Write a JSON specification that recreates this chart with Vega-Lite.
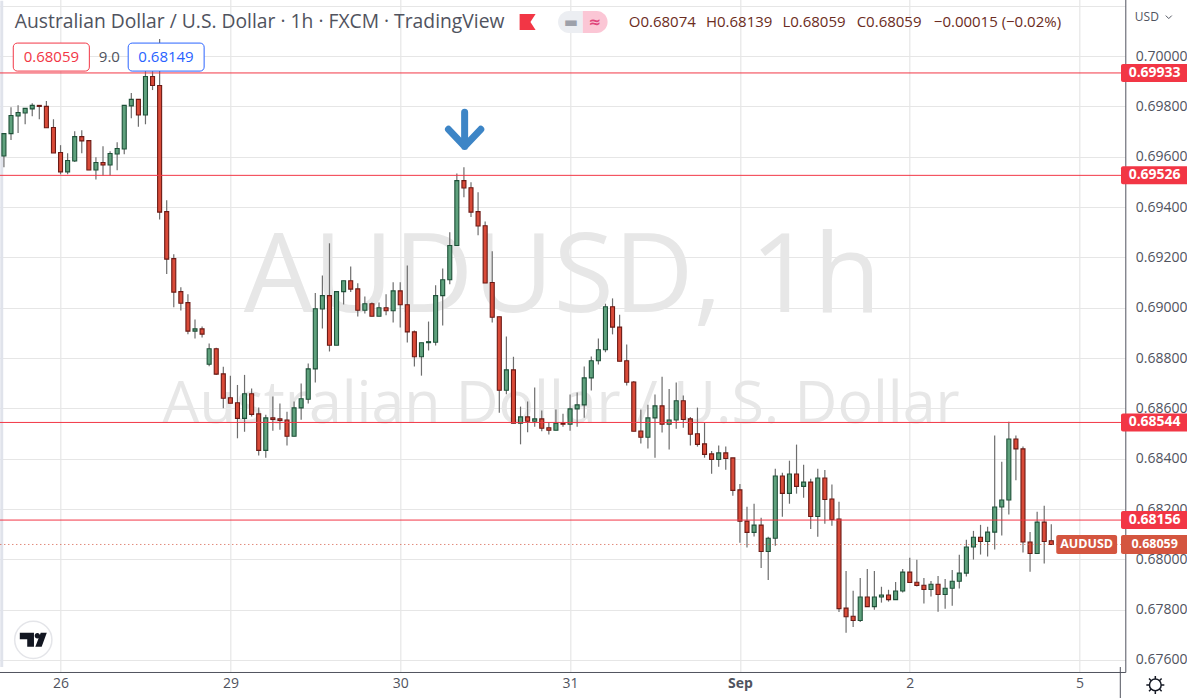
{"$schema":"https://vega.github.io/schema/vega-lite/v6.json","width":1187.3,"height":698,"autosize":{"type":"fit","contains":"padding"},"padding":{"left":-5.7,"top":-4,"right":-5,"bottom":-5},"background":"white","config":{"view":{"stroke":null},"font":"Open Sans"},
"title":{"text":"Australian Dollar / U.S. Dollar · 1h · FXCM · TradingView","anchor":"start","frame":"group","orient":"top","offset":-36,"dx":19.5,"font":"Open Sans","fontSize":19.3,"fontWeight":"normal","color":"#50535e"},
"datasets":{
"candles":[
{"t":-8,"open":0.69603,"high":0.69692,"low":0.69558,"close":0.69692,"dir":"up"},
{"t":-7,"open":0.69692,"high":0.69797,"low":0.69666,"close":0.69764,"dir":"up"},
{"t":-6,"open":0.69762,"high":0.69805,"low":0.69694,"close":0.69776,"dir":"up"},
{"t":-5,"open":0.69774,"high":0.69792,"low":0.69729,"close":0.69792,"dir":"up"},
{"t":-4,"open":0.6979,"high":0.69813,"low":0.69761,"close":0.69804,"dir":"up"},
{"t":-3,"open":0.69804,"high":0.69804,"low":0.69749,"close":0.698,"dir":"down"},
{"t":-2,"open":0.698,"high":0.69821,"low":0.69715,"close":0.69715,"dir":"down"},
{"t":-1,"open":0.69716,"high":0.69749,"low":0.69615,"close":0.69615,"dir":"down"},
{"t":0,"open":0.69617,"high":0.69646,"low":0.6953,"close":0.6954,"dir":"down"},
{"t":1,"open":0.6954,"high":0.69614,"low":0.6953,"close":0.69585,"dir":"up"},
{"t":2,"open":0.69583,"high":0.69701,"low":0.69579,"close":0.6968,"dir":"up"},
{"t":3,"open":0.6968,"high":0.69705,"low":0.69614,"close":0.69663,"dir":"down"},
{"t":4,"open":0.69664,"high":0.69664,"low":0.69547,"close":0.69547,"dir":"down"},
{"t":5,"open":0.69547,"high":0.69598,"low":0.6951,"close":0.69577,"dir":"up"},
{"t":6,"open":0.69577,"high":0.69642,"low":0.69525,"close":0.69567,"dir":"down"},
{"t":7,"open":0.69567,"high":0.69622,"low":0.69525,"close":0.69613,"dir":"up"},
{"t":8,"open":0.69611,"high":0.69658,"low":0.69546,"close":0.69633,"dir":"up"},
{"t":9,"open":0.69631,"high":0.69804,"low":0.6961,"close":0.69804,"dir":"up"},
{"t":10,"open":0.69802,"high":0.69853,"low":0.69753,"close":0.69828,"dir":"up"},
{"t":11,"open":0.69828,"high":0.69828,"low":0.69719,"close":0.69766,"dir":"down"},
{"t":12,"open":0.69766,"high":0.6994,"low":0.69729,"close":0.69919,"dir":"up"},
{"t":13,"open":0.69919,"high":0.6994,"low":0.69865,"close":0.69883,"dir":"down"},
{"t":14,"open":0.69883,"high":0.70068,"low":0.69351,"close":0.6938,"dir":"down"},
{"t":15,"open":0.69382,"high":0.69427,"low":0.69134,"close":0.69193,"dir":"down"},
{"t":16,"open":0.69195,"high":0.69212,"low":0.69002,"close":0.69062,"dir":"down"},
{"t":17,"open":0.69064,"high":0.69081,"low":0.68989,"close":0.69018,"dir":"down"},
{"t":18,"open":0.6902,"high":0.69053,"low":0.68895,"close":0.68907,"dir":"down"},
{"t":19,"open":0.68907,"high":0.68953,"low":0.68878,"close":0.68916,"dir":"up"},
{"t":20,"open":0.68916,"high":0.68925,"low":0.68882,"close":0.68895,"dir":"down"},
{"t":21,"open":0.68775,"high":0.68858,"low":0.68767,"close":0.68837,"dir":"up"},
{"t":22,"open":0.68837,"high":0.68841,"low":0.68733,"close":0.68736,"dir":"down"},
{"t":23,"open":0.68737,"high":0.68765,"low":0.686,"close":0.6864,"dir":"down"},
{"t":24,"open":0.68642,"high":0.6873,"low":0.6862,"close":0.6862,"dir":"down"},
{"t":25,"open":0.68622,"high":0.68693,"low":0.68481,"close":0.6856,"dir":"down"},
{"t":26,"open":0.6856,"high":0.68733,"low":0.68507,"close":0.68658,"dir":"up"},
{"t":27,"open":0.68658,"high":0.68679,"low":0.68568,"close":0.68576,"dir":"down"},
{"t":28,"open":0.68578,"high":0.68603,"low":0.68413,"close":0.68433,"dir":"down"},
{"t":29,"open":0.68433,"high":0.68575,"low":0.68404,"close":0.68562,"dir":"up"},
{"t":30,"open":0.68562,"high":0.68647,"low":0.68511,"close":0.68556,"dir":"down"},
{"t":31,"open":0.68558,"high":0.68619,"low":0.68515,"close":0.68552,"dir":"down"},
{"t":32,"open":0.68554,"high":0.68587,"low":0.68452,"close":0.68489,"dir":"down"},
{"t":33,"open":0.68489,"high":0.68627,"low":0.68489,"close":0.68602,"dir":"up"},
{"t":34,"open":0.68602,"high":0.68699,"low":0.68555,"close":0.68638,"dir":"up"},
{"t":35,"open":0.68636,"high":0.68778,"low":0.68619,"close":0.68757,"dir":"up"},
{"t":36,"open":0.68757,"high":0.69058,"low":0.68703,"close":0.68996,"dir":"up"},
{"t":37,"open":0.68995,"high":0.69128,"low":0.68917,"close":0.69048,"dir":"up"},
{"t":38,"open":0.69048,"high":0.69256,"low":0.68826,"close":0.68851,"dir":"down"},
{"t":39,"open":0.68851,"high":0.69064,"low":0.68851,"close":0.69064,"dir":"up"},
{"t":40,"open":0.69064,"high":0.69107,"low":0.69013,"close":0.69107,"dir":"up"},
{"t":41,"open":0.69107,"high":0.69164,"low":0.69062,"close":0.69074,"dir":"down"},
{"t":42,"open":0.69075,"high":0.69097,"low":0.68965,"close":0.6899,"dir":"down"},
{"t":43,"open":0.6899,"high":0.69045,"low":0.68977,"close":0.69016,"dir":"up"},
{"t":44,"open":0.69016,"high":0.69021,"low":0.68966,"close":0.68966,"dir":"down"},
{"t":45,"open":0.68966,"high":0.69021,"low":0.68966,"close":0.69,"dir":"up"},
{"t":46,"open":0.69,"high":0.69053,"low":0.6897,"close":0.68988,"dir":"down"},
{"t":47,"open":0.68988,"high":0.69101,"low":0.68941,"close":0.69067,"dir":"up"},
{"t":48,"open":0.69067,"high":0.69101,"low":0.68921,"close":0.69012,"dir":"down"},
{"t":49,"open":0.69012,"high":0.69168,"low":0.68862,"close":0.68904,"dir":"down"},
{"t":50,"open":0.68904,"high":0.68909,"low":0.68766,"close":0.68805,"dir":"down"},
{"t":51,"open":0.68805,"high":0.68861,"low":0.6873,"close":0.68861,"dir":"up"},
{"t":52,"open":0.68861,"high":0.68945,"low":0.6883,"close":0.68865,"dir":"up"},
{"t":53,"open":0.68863,"high":0.69089,"low":0.6885,"close":0.69048,"dir":"up"},
{"t":54,"open":0.69048,"high":0.69156,"low":0.68929,"close":0.69111,"dir":"up"},
{"t":55,"open":0.69111,"high":0.693,"low":0.69093,"close":0.69247,"dir":"up"},
{"t":56,"open":0.69247,"high":0.69533,"low":0.69247,"close":0.69505,"dir":"up"},
{"t":57,"open":0.69505,"high":0.69558,"low":0.69439,"close":0.69476,"dir":"down"},
{"t":58,"open":0.69477,"high":0.69499,"low":0.6936,"close":0.6938,"dir":"down"},
{"t":59,"open":0.69382,"high":0.69459,"low":0.69288,"close":0.69325,"dir":"down"},
{"t":60,"open":0.69326,"high":0.69343,"low":0.69098,"close":0.69098,"dir":"down"},
{"t":61,"open":0.691,"high":0.69224,"low":0.68941,"close":0.68962,"dir":"down"},
{"t":62,"open":0.68964,"high":0.68964,"low":0.68583,"close":0.68672,"dir":"down"},
{"t":63,"open":0.68672,"high":0.68886,"low":0.68656,"close":0.68753,"dir":"up"},
{"t":64,"open":0.68753,"high":0.68805,"low":0.68541,"close":0.68541,"dir":"down"},
{"t":65,"open":0.68541,"high":0.68607,"low":0.68457,"close":0.68566,"dir":"up"},
{"t":66,"open":0.68566,"high":0.68627,"low":0.68505,"close":0.68549,"dir":"down"},
{"t":67,"open":0.68549,"high":0.68683,"low":0.68527,"close":0.68558,"dir":"up"},
{"t":68,"open":0.68558,"high":0.68591,"low":0.68509,"close":0.68521,"dir":"down"},
{"t":69,"open":0.68523,"high":0.68546,"low":0.68496,"close":0.68513,"dir":"down"},
{"t":70,"open":0.68513,"high":0.68595,"low":0.68513,"close":0.68541,"dir":"up"},
{"t":71,"open":0.68541,"high":0.68579,"low":0.68527,"close":0.68537,"dir":"down"},
{"t":72,"open":0.68537,"high":0.68655,"low":0.68511,"close":0.68598,"dir":"up"},
{"t":73,"open":0.68598,"high":0.68663,"low":0.68527,"close":0.68614,"dir":"up"},
{"t":74,"open":0.68614,"high":0.68766,"low":0.68563,"close":0.68721,"dir":"up"},
{"t":75,"open":0.68721,"high":0.68806,"low":0.68671,"close":0.68789,"dir":"up"},
{"t":76,"open":0.68789,"high":0.68878,"low":0.68774,"close":0.68833,"dir":"up"},
{"t":77,"open":0.68833,"high":0.69016,"low":0.68823,"close":0.69004,"dir":"up"},
{"t":78,"open":0.69004,"high":0.69037,"low":0.68894,"close":0.68923,"dir":"down"},
{"t":79,"open":0.68923,"high":0.68972,"low":0.68787,"close":0.68787,"dir":"down"},
{"t":80,"open":0.68789,"high":0.68854,"low":0.68691,"close":0.68704,"dir":"down"},
{"t":81,"open":0.68705,"high":0.68709,"low":0.68509,"close":0.68509,"dir":"down"},
{"t":82,"open":0.6851,"high":0.68595,"low":0.6846,"close":0.68485,"dir":"down"},
{"t":83,"open":0.68485,"high":0.68614,"low":0.6844,"close":0.68562,"dir":"up"},
{"t":84,"open":0.68562,"high":0.68655,"low":0.68404,"close":0.6861,"dir":"up"},
{"t":85,"open":0.6861,"high":0.68726,"low":0.68504,"close":0.68537,"dir":"down"},
{"t":86,"open":0.68537,"high":0.68677,"low":0.68436,"close":0.68554,"dir":"up"},
{"t":87,"open":0.68554,"high":0.68703,"low":0.68519,"close":0.6863,"dir":"up"},
{"t":88,"open":0.6863,"high":0.68651,"low":0.68523,"close":0.68556,"dir":"down"},
{"t":89,"open":0.68558,"high":0.68566,"low":0.68452,"close":0.68497,"dir":"down"},
{"t":90,"open":0.68499,"high":0.68603,"low":0.68448,"close":0.68457,"dir":"down"},
{"t":91,"open":0.68459,"high":0.68542,"low":0.68404,"close":0.68417,"dir":"down"},
{"t":92,"open":0.68419,"high":0.68431,"low":0.6834,"close":0.68397,"dir":"down"},
{"t":93,"open":0.68397,"high":0.68452,"low":0.68368,"close":0.68423,"dir":"up"},
{"t":94,"open":0.68423,"high":0.68448,"low":0.68356,"close":0.68401,"dir":"down"},
{"t":95,"open":0.68403,"high":0.68403,"low":0.68253,"close":0.68274,"dir":"down"},
{"t":96,"open":0.68276,"high":0.68299,"low":0.68066,"close":0.68152,"dir":"down"},
{"t":97,"open":0.68152,"high":0.68209,"low":0.68047,"close":0.68107,"dir":"down"},
{"t":98,"open":0.68107,"high":0.68221,"low":0.68091,"close":0.68136,"dir":"up"},
{"t":99,"open":0.68136,"high":0.68165,"low":0.67966,"close":0.68031,"dir":"down"},
{"t":100,"open":0.68031,"high":0.6809,"low":0.67918,"close":0.68084,"dir":"up"},
{"t":101,"open":0.68084,"high":0.6836,"low":0.68054,"close":0.68331,"dir":"up"},
{"t":102,"open":0.68331,"high":0.68344,"low":0.68169,"close":0.68262,"dir":"down"},
{"t":103,"open":0.68262,"high":0.68392,"low":0.68221,"close":0.68339,"dir":"up"},
{"t":104,"open":0.68339,"high":0.68456,"low":0.68261,"close":0.6829,"dir":"down"},
{"t":105,"open":0.6829,"high":0.68376,"low":0.68245,"close":0.68307,"dir":"up"},
{"t":106,"open":0.68307,"high":0.6832,"low":0.68121,"close":0.6817,"dir":"down"},
{"t":107,"open":0.6817,"high":0.6836,"low":0.6809,"close":0.68323,"dir":"up"},
{"t":108,"open":0.68323,"high":0.68355,"low":0.68141,"close":0.68238,"dir":"down"},
{"t":109,"open":0.6824,"high":0.68297,"low":0.68133,"close":0.68158,"dir":"down"},
{"t":110,"open":0.6816,"high":0.68229,"low":0.67791,"close":0.67804,"dir":"down"},
{"t":111,"open":0.67806,"high":0.67954,"low":0.67708,"close":0.67772,"dir":"down"},
{"t":112,"open":0.67774,"high":0.67875,"low":0.67731,"close":0.67757,"dir":"down"},
{"t":113,"open":0.67757,"high":0.67926,"low":0.67751,"close":0.6785,"dir":"up"},
{"t":114,"open":0.6785,"high":0.67962,"low":0.67812,"close":0.67812,"dir":"down"},
{"t":115,"open":0.67812,"high":0.67954,"low":0.678,"close":0.6785,"dir":"up"},
{"t":116,"open":0.6785,"high":0.67891,"low":0.67828,"close":0.67858,"dir":"up"},
{"t":117,"open":0.67858,"high":0.67879,"low":0.67832,"close":0.6784,"dir":"down"},
{"t":118,"open":0.6784,"high":0.6791,"low":0.6784,"close":0.67874,"dir":"up"},
{"t":119,"open":0.67874,"high":0.67962,"low":0.67868,"close":0.67949,"dir":"up"},
{"t":120,"open":0.67949,"high":0.68006,"low":0.67908,"close":0.67908,"dir":"down"},
{"t":121,"open":0.67909,"high":0.67998,"low":0.67892,"close":0.67896,"dir":"down"},
{"t":122,"open":0.67897,"high":0.67926,"low":0.67824,"close":0.6788,"dir":"down"},
{"t":123,"open":0.6788,"high":0.67914,"low":0.67852,"close":0.67901,"dir":"up"},
{"t":124,"open":0.67901,"high":0.67934,"low":0.67792,"close":0.6786,"dir":"down"},
{"t":125,"open":0.6786,"high":0.67922,"low":0.67804,"close":0.67885,"dir":"up"},
{"t":126,"open":0.67885,"high":0.67958,"low":0.67816,"close":0.67913,"dir":"up"},
{"t":127,"open":0.67913,"high":0.68018,"low":0.67884,"close":0.67945,"dir":"up"},
{"t":128,"open":0.67945,"high":0.68078,"low":0.67932,"close":0.68049,"dir":"up"},
{"t":129,"open":0.68049,"high":0.68113,"low":0.67999,"close":0.68088,"dir":"up"},
{"t":130,"open":0.68088,"high":0.68137,"low":0.68019,"close":0.68071,"dir":"down"},
{"t":131,"open":0.68071,"high":0.68129,"low":0.68011,"close":0.68108,"dir":"up"},
{"t":132,"open":0.68108,"high":0.68492,"low":0.68039,"close":0.68208,"dir":"up"},
{"t":133,"open":0.68208,"high":0.68388,"low":0.68095,"close":0.68236,"dir":"up"},
{"t":134,"open":0.68236,"high":0.68547,"low":0.68178,"close":0.68478,"dir":"up"},
{"t":135,"open":0.68478,"high":0.68492,"low":0.68314,"close":0.68439,"dir":"down"},
{"t":136,"open":0.68439,"high":0.68448,"low":0.68027,"close":0.68069,"dir":"down"},
{"t":137,"open":0.68069,"high":0.68109,"low":0.67951,"close":0.68023,"dir":"down"},
{"t":138,"open":0.68023,"high":0.68189,"low":0.68023,"close":0.68148,"dir":"up"},
{"t":139,"open":0.68148,"high":0.68213,"low":0.67983,"close":0.68071,"dir":"down"},
{"t":140,"open":0.68074,"high":0.68139,"low":0.68059,"close":0.68059,"dir":"down"}
],
"levels":[{"price":0.69933,"label":"0.69933"},{"price":0.69526,"label":"0.69526"},{"price":0.68544,"label":"0.68544"},{"price":0.68156,"label":"0.68156"}]
},
"layer":[
{"data":{"name":"candles"},"mark":{"type":"rule","color":"#6e6e6e","strokeWidth":1.2,"opacity":0},
"encoding":{
"x":{"field":"t","type":"quantitative","title":null,"scale":{"domain":[-8.513,149.75],"nice":false,"zero":false},
"axis":{"values":[0,24,48,72,96,120,144],"labelExpr":"datum.value==0?'26':datum.value==24?'29':datum.value==48?'30':datum.value==72?'31':datum.value==96?'Sep':datum.value==120?'2':'5'","grid":true,"gridColor":"#e6e6e6","gridWidth":1.2,"ticks":false,"domain":true,"domainColor":"#50535e","domainWidth":1,"labelFont":"Open Sans","labelFontSize":14,"labelColor":"#50535e","labelPadding":5,"labelFontWeight":{"condition":{"test":"datum.value==96","value":"bold"},"value":"normal"}}},
"y":{"field":"low","type":"quantitative","title":null,"scale":{"domain":[0.675721,0.702189],"nice":false,"zero":false},
"axis":{"orient":"right","values":[0.676,0.678,0.68,0.682,0.684,0.686,0.688,0.69,0.692,0.694,0.696,0.698,0.7,0.702],"labelExpr":"datum.value>0.701?'':format(datum.value,'.5f')","grid":true,"gridColor":"#e6e6e6","gridWidth":1.2,"ticks":false,"domain":true,"domainColor":"#50535e","domainWidth":1,"labelFont":"Open Sans","labelFontSize":14,"labelColor":"#50535e","labelPadding":10}}
}},
{"data":{"values":[{"text":"AUDUSD, 1h","t":70.9,"price":0.69116,"size":110},{"text":"Australian Dollar / U.S. Dollar","t":70.7,"price":0.68615,"size":59}]},"mark":{"type":"text","font":"Open Sans","color":"#e7e7e7","align":"center","baseline":"middle"},"encoding":{"x":{"field":"t","type":"quantitative"},"y":{"field":"price","type":"quantitative"},"text":{"field":"text"},"size":{"field":"size","type":"quantitative","scale":null}}},
{"data":{"values":[{"t":-8.513,"t2":-8.1,"p":0.7022,"p2":0.67572}]},"mark":{"type":"rect","color":"#e0e3eb"},"encoding":{"x":{"field":"t","type":"quantitative"},"x2":{"field":"t2"},"y":{"field":"p","type":"quantitative"},"y2":{"field":"p2"}}},
{"data":{"name":"candles"},"mark":{"type":"rule","color":"#6e6e6e","strokeWidth":1.2},"encoding":{"x":{"field":"t","type":"quantitative"},"y":{"field":"low","type":"quantitative"},"y2":{"field":"high"}}},
{"data":{"name":"candles"},"mark":{"type":"bar","size":4,"strokeWidth":1.1},"encoding":{"x":{"field":"t","type":"quantitative"},"y":{"field":"open","type":"quantitative"},"y2":{"field":"close"},"color":{"field":"dir","type":"nominal","legend":null,"scale":{"domain":["up","down"],"range":["#5fa17d","#d94a38"]}},"stroke":{"field":"dir","type":"nominal","legend":null,"scale":{"domain":["up","down"],"range":["#1e5038","#6b1a15"]}}}},
{"data":{"name":"levels"},"mark":{"type":"rule","color":"#f23645","strokeWidth":1},"encoding":{"y":{"field":"price","type":"quantitative"}}},
{"data":{"values":[{"price":0.68059}]},"mark":{"type":"rule","color":"#d4553f","strokeWidth":1,"strokeDash":[1,3]},"encoding":{"y":{"field":"price","type":"quantitative"}}},
{"data":{"values":[{"t":149.75,"p":0.67572,"p2":0.67437}]},"mark":{"type":"rule","color":"#50535e","strokeWidth":1},"encoding":{"x":{"field":"t","type":"quantitative"},"y":{"field":"p","type":"quantitative"},"y2":{"field":"p2"}}},
{"data":{"values":[{"t":-6.68,"t2":4.07,"price":0.69996,"c":"#f23645"},{"t":9.56,"t2":20.29,"price":0.69996,"c":"#2962ff"}]},"mark":{"type":"bar","size":28,"fill":"white","cornerRadius":4,"strokeWidth":1},"encoding":{"x":{"field":"t","type":"quantitative"},"x2":{"field":"t2"},"y":{"field":"price","type":"quantitative"},"stroke":{"field":"c","type":"nominal","scale":null}}},
{"data":{"values":[{"text":"0.68059","t":-1.3,"price":0.69996,"c":"#f23645"},{"text":"9.0","t":6.9,"price":0.69996,"c":"#50535e"},{"text":"0.68149","t":14.9,"price":0.69996,"c":"#2962ff"}]},"mark":{"type":"text","font":"Open Sans","fontSize":15,"align":"center","baseline":"middle"},"encoding":{"x":{"field":"t","type":"quantitative"},"y":{"field":"price","type":"quantitative"},"text":{"field":"text"},"color":{"field":"c","type":"nominal","scale":null}}},
{"data":{"values":[{"text":"O0.68074","t":80.3,"price":0.70135},{"text":"H0.68139","t":91.2,"price":0.70135},{"text":"L0.68059","t":102,"price":0.70135},{"text":"C0.68059","t":112.5,"price":0.70135},{"text":"−0.00015 (−0.02%)","t":123.4,"price":0.70135}]},"mark":{"type":"text","font":"Open Sans","fontSize":15,"align":"left","baseline":"middle","color":"#6b2c22"},"encoding":{"x":{"field":"t","type":"quantitative"},"y":{"field":"price","type":"quantitative"},"text":{"field":"text"}}},
{"data":{"values":[{"t":70.3,"t2":73.8,"price":0.70135}]},"mark":{"type":"bar","size":22,"color":"#eceef2","cornerRadiusTopLeft":11,"cornerRadiusBottomLeft":11},"encoding":{"x":{"field":"t","type":"quantitative"},"x2":{"field":"t2"},"y":{"field":"price","type":"quantitative"}}},
{"data":{"values":[{"t":73.8,"t2":77.3,"price":0.70135}]},"mark":{"type":"bar","size":22,"color":"#fbc6d5","cornerRadiusTopRight":11,"cornerRadiusBottomRight":11},"encoding":{"x":{"field":"t","type":"quantitative"},"x2":{"field":"t2"},"y":{"field":"price","type":"quantitative"}}},
{"data":{"values":[{"text":"▬","t":72.1,"price":0.70135,"c":"#9ea1aa"},{"text":"≈","t":75.5,"price":0.70135,"c":"#e0457b"}]},"mark":{"type":"text","font":"DejaVu Sans","fontSize":15,"fontWeight":"bold","align":"center","baseline":"middle"},"encoding":{"x":{"field":"t","type":"quantitative"},"y":{"field":"price","type":"quantitative"},"text":{"field":"text"},"color":{"field":"c","type":"nominal","scale":null}}},
{"data":{"values":[{"t":66,"price":0.70135}]},"mark":{"type":"point","shape":"M-1,-1 L1,-1 L0.35,0 L1,1 L-1,1 Z","size":256,"filled":true,"color":"#f23645","opacity":1},"encoding":{"x":{"field":"t","type":"quantitative"},"y":{"field":"price","type":"quantitative"}}},
{"data":{"values":[{"t":57.1,"price":0.69709}]},"mark":{"type":"point","shape":"M0,-0.9 L0,0.9 M-0.85,0 L0,0.9 L0.85,0","size":1444,"filled":false,"strokeWidth":7,"strokeCap":"round","strokeJoin":"round","color":"#3d85c6","opacity":1},"encoding":{"x":{"field":"t","type":"quantitative"},"y":{"field":"price","type":"quantitative"}}},
{"data":{"values":[{"t":-3.85,"price":0.6768}]},"mark":{"type":"point","shape":"circle","size":1385,"filled":true,"fill":"white","stroke":"#e4e5e9","strokeWidth":1.5,"opacity":1},"encoding":{"x":{"field":"t","type":"quantitative"},"y":{"field":"price","type":"quantitative"}}},
{"data":{"values":[{"t":-3.85,"price":0.6768}]},"mark":{"type":"point","shape":"M-1,-0.52 L0.05,-0.52 L0.05,0.52 L-0.45,0.52 L-0.45,-0.05 L-1,-0.05 Z M1,-0.52 L0.62,0.52 L0.15,0.52 L0.55,-0.52 Z M0.5,-0.3 A0.2,0.2 0 1 1 0.1,-0.3 A0.2,0.2 0 1 1 0.5,-0.3 Z","size":729,"filled":true,"color":"#131722","opacity":1},"encoding":{"x":{"field":"t","type":"quantitative"},"y":{"field":"price","type":"quantitative"}}},
{"data":{"values":[{"t":154.7,"price":0.67501}]},"mark":{"type":"point","shape":"M0.65,0 A0.65,0.65 0 1 1 -0.65,0 A0.65,0.65 0 1 1 0.65,0 M0,-0.65 L0,-1 M0,0.65 L0,1 M0.65,0 L1,0 M-0.65,0 L-1,0 M0.46,-0.46 L0.7,-0.7 M-0.46,-0.46 L-0.7,-0.7 M0.46,0.46 L0.7,0.7 M-0.46,0.46 L-0.7,0.7","size":324,"filled":false,"strokeWidth":1.5,"color":"#131722","opacity":1},"encoding":{"x":{"field":"t","type":"quantitative"},"y":{"field":"price","type":"quantitative"}}},
{"data":{"values":[{"t":156.6,"price":0.70155}]},"mark":{"type":"point","shape":"M-1,-0.5 L0,0.5 L1,-0.5","size":36,"filled":false,"strokeWidth":1,"color":"#50535e","opacity":1},"encoding":{"x":{"field":"t","type":"quantitative"},"y":{"field":"price","type":"quantitative"}}},
{"data":{"values":[{"text":"USD","t":153.5,"price":0.70155}]},"mark":{"type":"text","font":"Open Sans","fontSize":12,"align":"center","baseline":"middle","color":"#50535e"},"encoding":{"x":{"field":"t","type":"quantitative"},"y":{"field":"price","type":"quantitative"},"text":{"field":"text"}}},
{"data":{"name":"levels"},"mark":{"type":"bar","size":18,"color":"#f23645","cornerRadius":2},"encoding":{"x":{"datum":149.85,"type":"quantitative"},"x2":{"datum":159.4},"y":{"field":"price","type":"quantitative"}}},
{"data":{"values":[{"t":149.85,"t2":159.4,"price":0.68059},{"t":140.7,"t2":149.3,"price":0.68059}]},"mark":{"type":"bar","size":19,"color":"#d4553f","cornerRadius":2},"encoding":{"x":{"field":"t","type":"quantitative"},"x2":{"field":"t2"},"y":{"field":"price","type":"quantitative"}}},
{"data":{"name":"levels"},"mark":{"type":"text","font":"Open Sans","fontSize":14,"fontWeight":"bold","align":"center","baseline":"middle","color":"white"},"encoding":{"x":{"datum":154.6,"type":"quantitative"},"y":{"field":"price","type":"quantitative"},"text":{"field":"label"}}},
{"data":{"values":[{"text":"0.68059","t":154.6,"price":0.68059},{"text":"AUDUSD","t":145,"price":0.68059}]},"mark":{"type":"text","font":"Open Sans","fontSize":12.5,"fontWeight":"bold","align":"center","baseline":"middle","color":"white"},"encoding":{"x":{"field":"t","type":"quantitative"},"y":{"field":"price","type":"quantitative"},"text":{"field":"text"}}}
]}
